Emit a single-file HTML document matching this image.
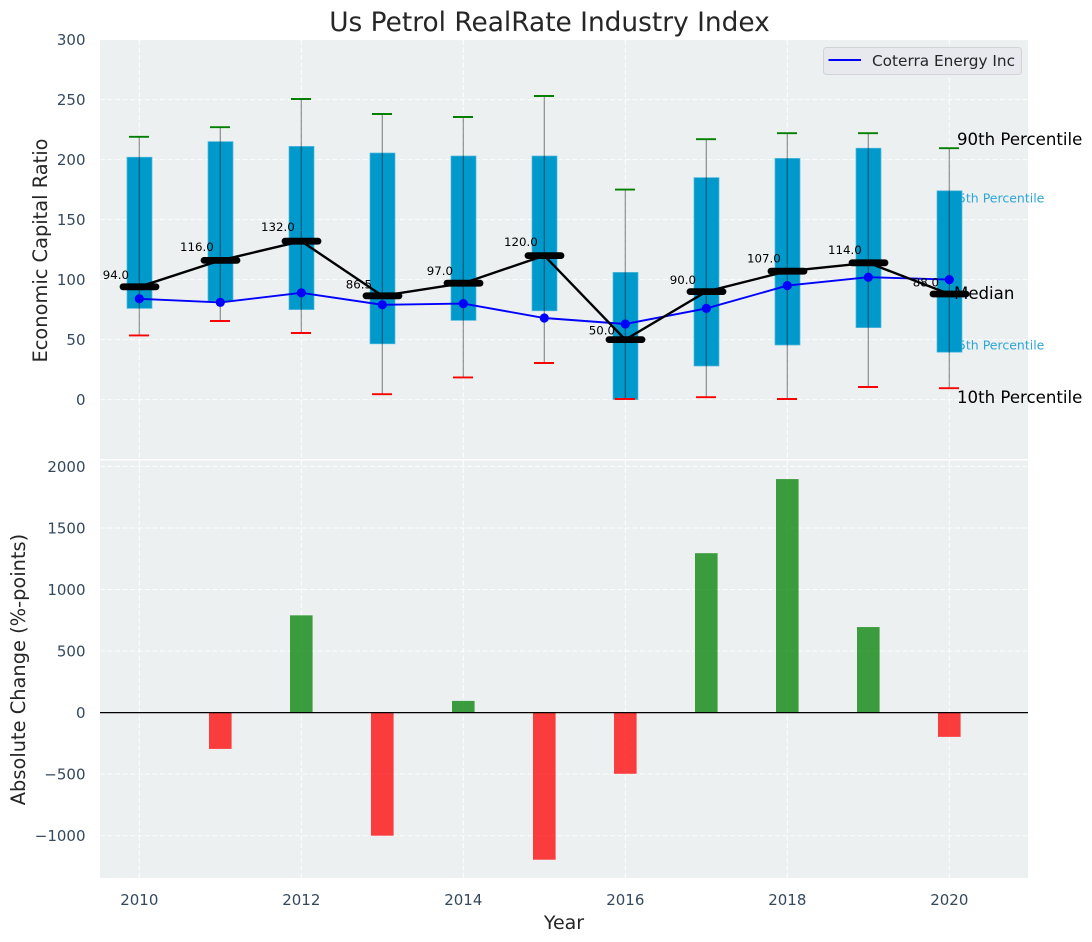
<!DOCTYPE html>
<html lang="en">
<head>
<meta charset="utf-8">
<title>Us Petrol RealRate Industry Index</title>
<style>
html,body{margin:0;padding:0;background:#fff;}
svg{display:block;font-family:"DejaVu Sans","Liberation Sans",sans-serif;}
</style>
</head>
<body>
<svg id="chart" xmlns="http://www.w3.org/2000/svg" width="1092" height="942" viewBox="0 0 1092 942">
  <rect x="0" y="0" width="1092" height="942" fill="#ffffff"/>
  <rect x="100" y="40" width="928" height="419" fill="#ecf0f1"/>
  <rect x="100" y="460.5" width="928" height="417.5" fill="#ecf0f1"/>
  <g id="grid"></g>
  <g id="percentile-labels-back"></g>
  <g id="boxes"></g>
  <g id="whiskers"></g>
  <g id="company"></g>
  <g id="medians"></g>
  <g id="change-bars"></g>
  <line x1="100" x2="1028" y1="712.6" y2="712.6" stroke="#000000" stroke-width="1.3"/>
  <g id="ticks" fill="#34495e" font-size="15"></g>
  <text x="549.5" y="31" text-anchor="middle" font-size="26.4" fill="#262626">Us Petrol RealRate Industry Index</text>
  <text transform="translate(47,250.5) rotate(-90)" text-anchor="middle" font-size="19.4" fill="#262626">Economic Capital Ratio</text>
  <text transform="translate(25,669.5) rotate(-90)" text-anchor="middle" font-size="19.4" fill="#262626">Absolute Change (%-points)</text>
  <text x="564" y="929" text-anchor="middle" font-size="19" fill="#262626">Year</text>
  <g>
    <rect x="823.5" y="47.5" width="198" height="27" rx="3" fill="#e8e9ef" stroke="#d2d3d6" stroke-width="1"/>
    <line x1="828.5" x2="861" y1="60" y2="60" stroke="#0000ff" stroke-width="2"/>
    <text x="872" y="66" font-size="15.3" fill="#262626">Coterra Energy Inc</text>
  </g>
  <text x="957" y="145" font-size="16.6" fill="#000000">90th Percentile</text>
  <text x="954" y="299" font-size="16.6" fill="#000000">Median</text>
  <text x="957" y="403" font-size="16.6" fill="#000000">10th Percentile</text>
</svg>
<script>
const years = [2010,2011,2012,2013,2014,2015,2016,2017,2018,2019,2020];
const p90 = [219,227,250.5,238,235.5,253,175,217,222,222,209.5];
const p75 = [202,215,211,205.5,203,203,106,185,201,209.5,174];
const medianValues = [94,116,132,86.5,97,120,50,90,107,114,88];
const p25 = [76,82,75,46.5,66,74,0,28,45.5,60,39.5];
const p10 = [53.5,65.5,55.5,4.5,18.5,30.5,0.5,2,0.5,10.5,9.5];
const companyValues = [84,81,89,79,80,68,63,76,95,102,100];
const changeValues = [0,-295,790,-1000,95,-1195,-497,1295,1897,695,-197];
const topTicks = [0,50,100,150,200,250,300];
const bottomTicks = [-1000,-500,0,500,1000,1500,2000];
const xTicks = [2010,2012,2014,2016,2018,2020];

const NS = 'http://www.w3.org/2000/svg';
function xScale(v){ return 139.3 + (v - 2010) * 81; }
function yTop(v){ return 399.6 - v * 1.2; }
function yBottom(v){ return 712.6 - v * 0.1231; }
function mk(parentId, tag, attrs, text){
  const el = document.createElementNS(NS, tag);
  for (const k in attrs) el.setAttribute(k, attrs[k]);
  if (text !== undefined) el.textContent = text;
  document.getElementById(parentId).appendChild(el);
  return el;
}
function fmtTick(v){ return v < 0 ? '\u2212' + Math.abs(v) : String(v); }

/* grid */
topTicks.forEach(function(t){
  const el = mk('grid','line',{x1:100,x2:1028,y1:yTop(t),y2:yTop(t),stroke:'#ffffff','stroke-width':1,'stroke-dasharray':'5 2.5','stroke-opacity':0.9});
  
  
  const lab = mk('ticks','text',{x:85.5,y:yTop(t)+5.5,'text-anchor':'end'},fmtTick(t));
  
  
});
bottomTicks.forEach(function(t){
  const el = mk('grid','line',{x1:100,x2:1028,y1:yBottom(t),y2:yBottom(t),stroke:'#ffffff','stroke-width':1,'stroke-dasharray':'5 2.5','stroke-opacity':0.9});
  
  
  const lab = mk('ticks','text',{x:85.5,y:yBottom(t)+5.5,'text-anchor':'end'},fmtTick(t));
  
  
});
xTicks.forEach(function(t){
  const a = mk('grid','line',{x1:xScale(t),x2:xScale(t),y1:40,y2:459,stroke:'#ffffff','stroke-width':1,'stroke-dasharray':'5 2.5','stroke-opacity':0.9});
  
  
  const b = mk('grid','line',{x1:xScale(t),x2:xScale(t),y1:460.5,y2:878,stroke:'#ffffff','stroke-width':1,'stroke-dasharray':'5 2.5','stroke-opacity':0.9});
  
  
  const lab = mk('ticks','text',{x:xScale(t),y:905,'text-anchor':'middle'},String(t));
  
  
});

/* annotations for the last year's quartiles sit behind its box */
const lastIdx = years.length - 1;
const q75Label = mk('percentile-labels-back','text',{x:xScale(years[lastIdx])+0.7,y:yTop(p75[lastIdx])+11.5,'font-size':12.5,fill:'#2ea6d6'},'75th Percentile');


const q25Label = mk('percentile-labels-back','text',{x:xScale(years[lastIdx])+0.7,y:yTop(p25[lastIdx])-2.5,'font-size':12.5,fill:'#2ea6d6'},'25th Percentile');



/* boxes and whiskers */
years.forEach(function(yr,i){
  const x = xScale(yr);
  const box = mk('boxes','rect',{x:x-12.3,y:yTop(p75[i]),width:25,height:yTop(p25[i])-yTop(p75[i]),fill:'#0099cc',stroke:'#52b8dc','stroke-width':0.7});
  
  
  const w = mk('whiskers','line',{x1:x,x2:x,y1:yTop(p90[i]),y2:yTop(p10[i]),stroke:'#000000','stroke-opacity':0.42,'stroke-width':1.2});
  
  
  const capHi = mk('whiskers','line',{x1:x-10.3,x2:x+9.7,y1:yTop(p90[i]),y2:yTop(p90[i]),stroke:'#008000','stroke-width':1.9});
  
  
  const capLo = mk('whiskers','line',{x1:x-10.3,x2:x+9.7,y1:yTop(p10[i]),y2:yTop(p10[i]),stroke:'#ff0000','stroke-width':1.9});
  
  
});

/* company series */
const companyLine = mk('company','polyline',{points:years.map(function(yr,i){return xScale(yr)+','+yTop(companyValues[i]);}).join(' '),fill:'none',stroke:'#0000ff','stroke-width':1.9});


years.forEach(function(yr,i){
  const pt = mk('company','circle',{cx:xScale(yr),cy:yTop(companyValues[i]),r:4.6,fill:'#0000ff'});
  
  
});

/* median series */
const medianLine = mk('medians','polyline',{points:years.map(function(yr,i){return xScale(yr)+','+yTop(medianValues[i]);}).join(' '),fill:'none',stroke:'#000000','stroke-width':2.4});


years.forEach(function(yr,i){
  const x = xScale(yr);
  const y = yTop(medianValues[i]);
  const cap = mk('medians','line',{x1:x-16.3,x2:x+16.7,y1:y,y2:y,stroke:'#000000','stroke-width':6.8,'stroke-linecap':'round'});
  
  
  const lab = mk('medians','text',{x:x-23.4,y:yTop(medianValues[i]*1.05)-2.2,'text-anchor':'middle','font-size':11.8,fill:'#000000'},medianValues[i].toFixed(1));
  
  
});

/* change bars */
years.forEach(function(yr,i){
  const v = changeValues[i];
  if (v === 0) return;
  const y0 = yBottom(0);
  const y1 = yBottom(v);
  const bar = mk('change-bars','rect',{x:xScale(yr)-11.3,y:Math.min(y0,y1),width:22.6,height:Math.abs(y1-y0),fill:v>0?'#008000':'#ff0000','fill-opacity':0.75});
  
  
});
</script>
</body>
</html>
